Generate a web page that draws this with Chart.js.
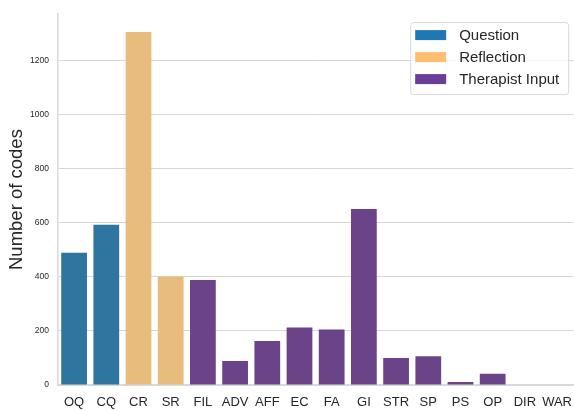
<!DOCTYPE html>
<html>
<head>
<meta charset="utf-8">
<script src="https://cdn.jsdelivr.net/npm/chart.js@4.4.0/dist/chart.umd.min.js"></script>
<style>
  html, body { margin: 0; padding: 0; background: #fff; }
  #wrap { width: 574px; height: 410px; }
</style>
</head>
<body>
<div id="wrap"><canvas id="codesChart"></canvas></div>
<script>
// codes and counts
const codes = ['OQ', 'CQ', 'CR', 'SR', 'FIL', 'ADV', 'AFF', 'EC', 'FA', 'GI', 'STR', 'SP', 'PS', 'OP', 'DIR', 'WAR'];
const counts = [489, 593, 1306, 401, 388, 89, 163, 213, 205, 651, 100, 106, 11, 42, 0, 0];
const groupOf = [0, 0, 1, 1, 2, 2, 2, 2, 2, 2, 2, 2, 2, 2, 2, 2];
const groupNames = ['Question', 'Reflection', 'Therapist Input'];
const yTicks = [0, 200, 400, 600, 800, 1000, 1200];

const barColors = ['#2e75a0', '#e8bc7c', '#6a4389'];
const legendColors = ['#1f77b4', '#fdbf6f', '#6a3d9a'];

const FONT = '"Liberation Sans", Arial, sans-serif';

// seaborn-like framed legend in the upper right corner
const boxLegend = {
    id: 'boxLegend',
    afterDraw(chart) {
        const ctx = chart.ctx;
        const area = chart.chartArea;
        const x = area.right - 163, y = area.top + 8, w = 158, h = 72;
        ctx.save();
        ctx.fillStyle = 'rgba(255,255,255,0.8)';
        ctx.strokeStyle = '#d9d9d9';
        ctx.lineWidth = 1;
        ctx.beginPath();
        ctx.roundRect(x + 0.5, y + 0.5, w, h, 3);
        ctx.fill();
        ctx.stroke();
        ctx.font = '15px ' + FONT;
        ctx.textBaseline = 'middle';
        groupNames.forEach((name, i) => {
            const cy = y + 13 + i * 22;
            ctx.fillStyle = legendColors[i];
            ctx.fillRect(x + 5, cy - 5, 31, 10);
            ctx.fillStyle = '#262626';
            ctx.fillText(name, x + 49, cy + 1);
        });
        ctx.restore();
    }
};

const ctx = document.getElementById('codesChart').getContext('2d');
const codesChart = new Chart(ctx, {
    type: 'bar',
    data: {
        labels: codes,
        datasets: [{
            data: counts,
            backgroundColor: groupOf.map(g => barColors[g]),
            borderWidth: 0,
            barPercentage: 0.8,
            categoryPercentage: 1.0
        }]
    },
    options: {
        responsive: true,
        maintainAspectRatio: false,
        animation: false,
        layout: { padding: { top: 5, right: 0, left: 0, bottom: 0 } },
        plugins: {
            legend: { display: false },
            tooltip: { enabled: false }
        },
        scales: {
            x: {
                grid: { display: false },
                border: { color: '#d9d9d9', width: 1.5 },
                ticks: { color: '#262626', font: { family: FONT, size: 13 }, padding: 2, maxRotation: 0, autoSkip: false },
                afterFit(scale) { scale.height = 25; }
            },
            y: {
                min: 0,
                max: 1372,
                afterBuildTicks(scale) { scale.ticks = yTicks.map(v => ({ value: v })); },
                grid: { color: '#d6d6d6', lineWidth: 1, drawTicks: false },
                border: { color: '#d9d9d9', width: 1.5 },
                ticks: {
                    color: '#262626',
                    font: { family: FONT, size: 8.5 },
                    padding: 9,
                    callback: v => String(v)
                },
                title: { display: true, text: 'Number of codes', color: '#262626', font: { family: FONT, size: 18.5 }, padding: { top: 6, bottom: 0 } },
                afterFit(scale) { scale.width = 58; }
            }
        }
    },
    plugins: [boxLegend]
});
</script>
</body>
</html>
